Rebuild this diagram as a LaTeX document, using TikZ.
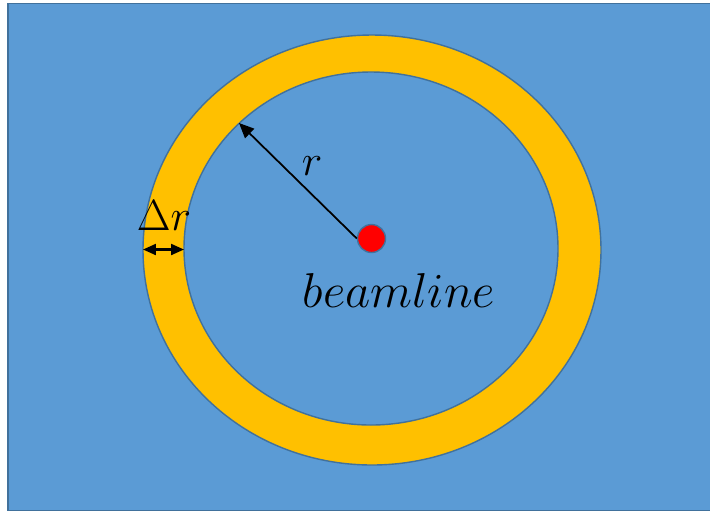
\documentclass[tikz,border=0pt]{standalone}
\usepackage{amsmath}
\usepackage{xcolor}
\usetikzlibrary{positioning,arrows.meta}
\definecolor{bgblue}{HTML}{5B9BD5}
\definecolor{edgeblue}{HTML}{41719C}
\definecolor{ringgold}{HTML}{FFC000}
\begin{document}
\begin{tikzpicture}[x=0.02cm, y=-0.02cm, >={Triangle[length=2.6mm, width=2.2mm]},
  plate/.style={draw=edgeblue, line width=0.8pt, fill=bgblue},
  ring/.style={draw=edgeblue, line width=0.8pt, fill=ringgold},
  beam/.style={circle, fill=red, draw=edgeblue, line width=0.8pt, minimum size=5.6mm, inner sep=0pt},
  lbl/.style={inner sep=0pt, font=\fontsize{24}{28}\selectfont}]
\useasboundingbox (0,0) rectangle (710,512);
\draw[plate] (8,3.5) rectangle (712,510.5);
\draw[ring] (372,250) ellipse [x radius=229, y radius=215];
\draw[plate] (371,248.5) ellipse [x radius=187, y radius=176.5];
\node[beam] (bl) at (371.5,238.5) {};
\coordinate (rim) at (239,123);
\coordinate (dl) at (143,249.5);
\coordinate (dr) at (184,249.5);
\node[lbl] (rlab) at (312,166) {$r$};
\node[lbl] (drlab) at (164,216) {$\Delta r$};
\node[lbl, scale=1.12] (bname) at (399,290) {$beamline$};
\draw[-{Triangle[length=3mm, width=2.6mm]}, line width=1pt] (bl.west) -- (rim);
\draw[<->, line width=1.2pt] (dl) -- (dr);
\end{tikzpicture}
\end{document}
